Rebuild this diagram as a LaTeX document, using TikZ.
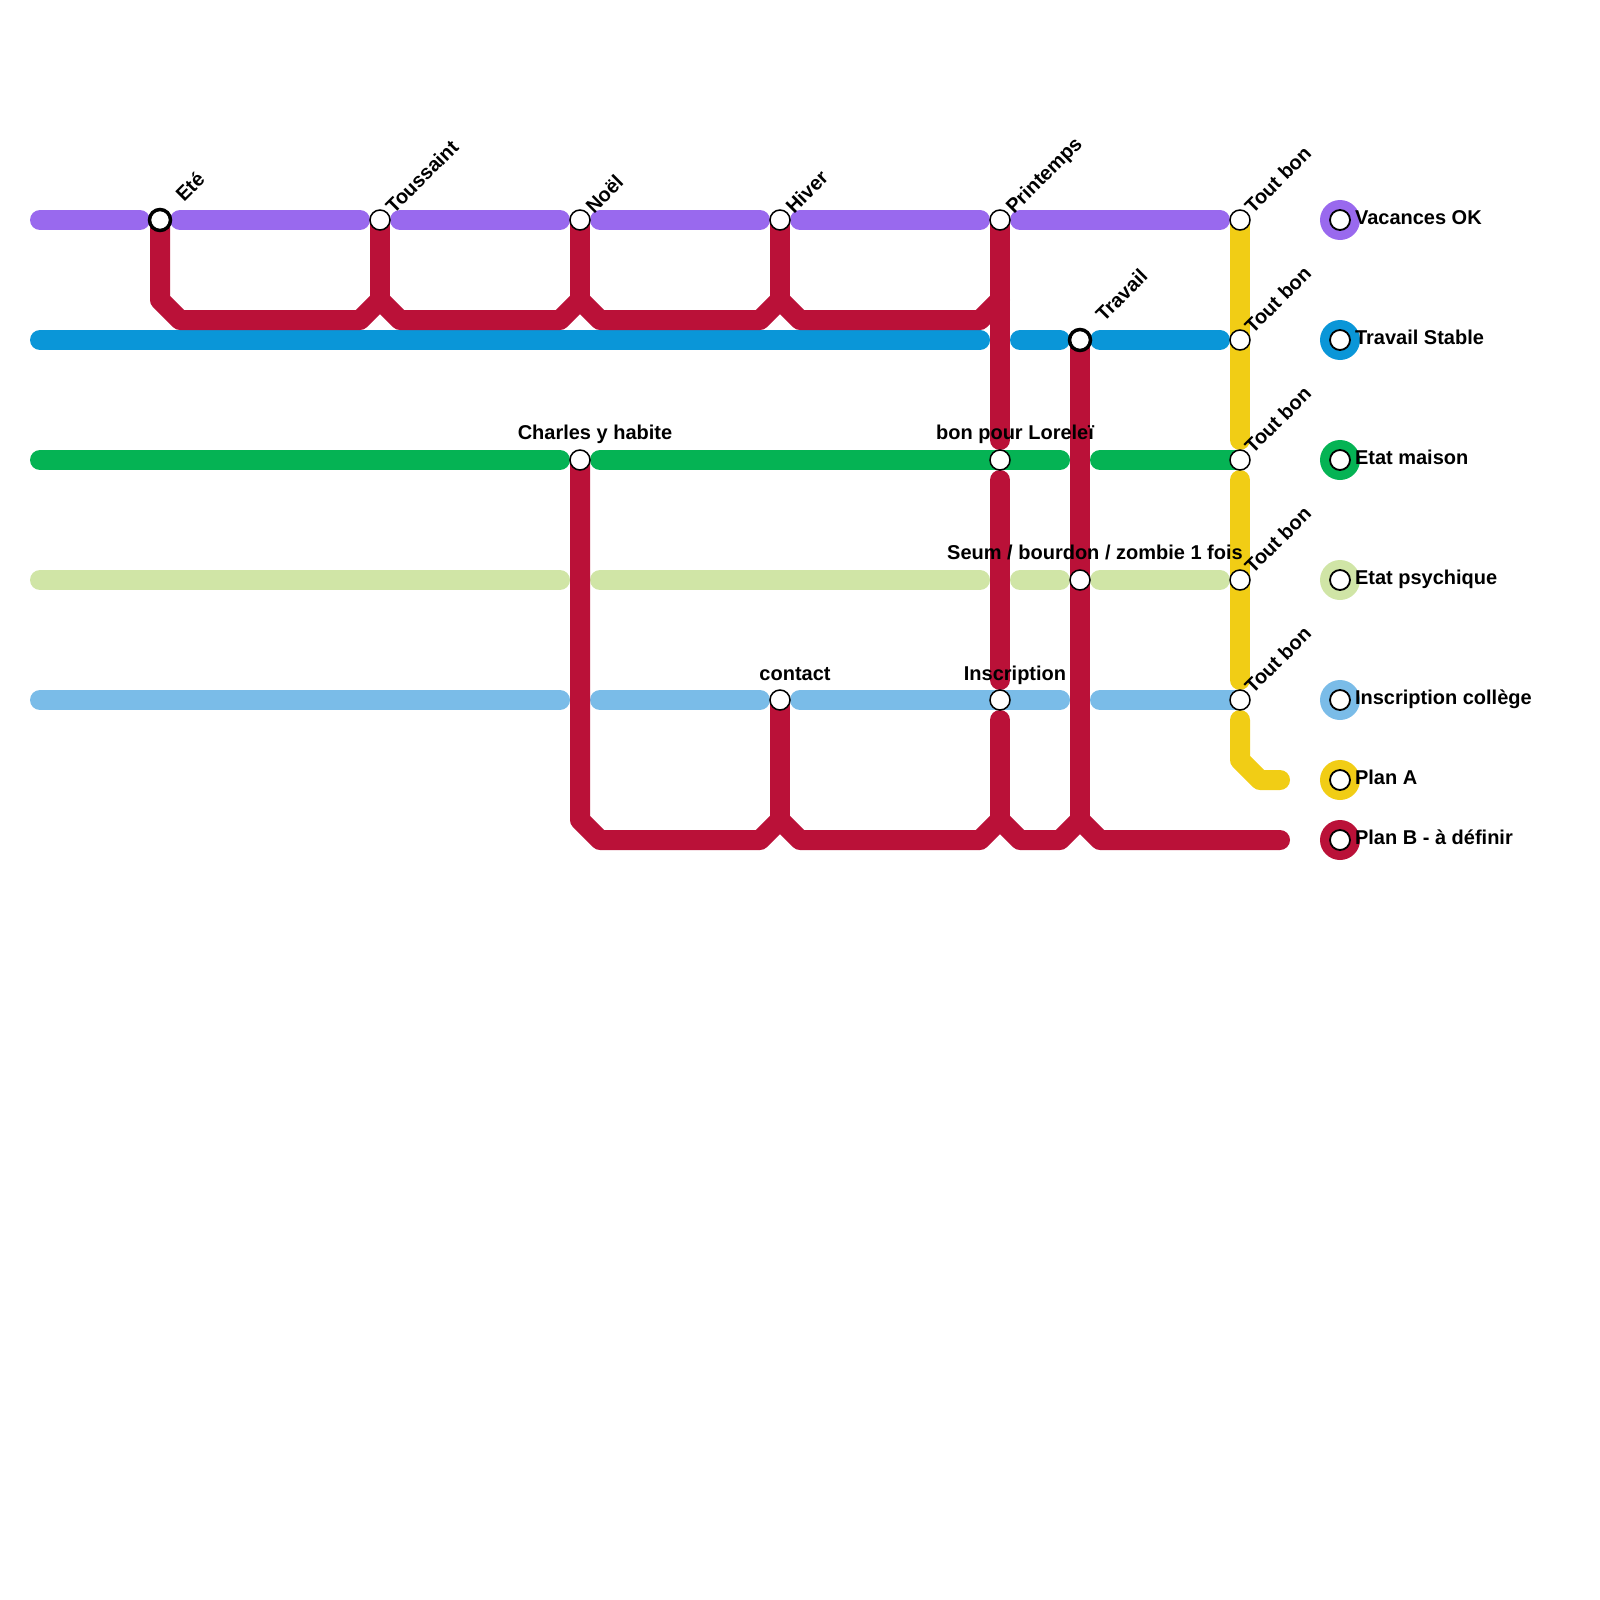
\documentclass[tikz,border=0pt]{standalone}
\usepackage{fontspec}
\setmainfont{Liberation Sans}
\usetikzlibrary{backgrounds}
\definecolor{cpurple}{HTML}{9969EE}
\definecolor{cblue}{HTML}{0A96D8}
\definecolor{cgreen}{HTML}{05B354}
\definecolor{cpale}{HTML}{D0E5A6}
\definecolor{csky}{HTML}{7ABCE8}
\definecolor{cyellow}{HTML}{F1CD15}
\definecolor{ccrimson}{HTML}{BA1138}
\tikzset{
  metro/.style={line width=10pt,line cap=round,line join=round},
  station/.style={circle,draw=black,fill=white,line width=0.75pt,minimum size=10pt,inner sep=0pt,outer sep=0pt},
  hub/.style={circle,draw=black,fill=white,line width=1.75pt,minimum size=10.5pt,inner sep=0pt,outer sep=0pt},
  legenddisc/.style={circle,minimum size=20pt,inner sep=0pt,outer sep=0pt},
  keystop/.style={circle,draw=black,fill=white,line width=0.9pt,minimum size=10pt,inner sep=0pt,outer sep=0pt},
  tag/.style={font=\bfseries\fontsize{10pt}{12pt}\selectfont,text=black,inner sep=0pt,outer sep=0pt},
  slant/.style={tag,rotate=45,anchor=base west},
  above tag/.style={tag,anchor=base},
  key/.style={tag,anchor=base west}
}
\begin{document}
\begin{tikzpicture}[x=0.5pt,y=-0.5pt]
\useasboundingbox (0,0) rectangle (1600,1600);
% grid of way-points
\foreach \x in {40,140,180,360,400,560,600,760,800,980,1020,1060,1100,1220,1240,1260,1280}
  \foreach \y in {220,300,320,340,460,580,700,760,780,820,840}
    \coordinate (g\x-\y) at (\x,\y);
\coordinate (r1) at (160,300);
\coordinate (r2) at (180,320);
\coordinate (t1) at (380,300);
\coordinate (t2) at (580,300);
\coordinate (t3) at (780,300);
\coordinate (t4) at (1000,300);
\coordinate (u1) at (1000,440);
\coordinate (u2) at (1000,480);
\coordinate (u3) at (1000,680);
\coordinate (u4) at (1000,720);
\coordinate (u5) at (1000,820);
\coordinate (v1) at (1080,820);
\coordinate (w1) at (580,820);
\coordinate (w2) at (780,820);
\coordinate (y1) at (1240,440);
\coordinate (y2) at (1240,480);
\coordinate (y3) at (1240,680);
\coordinate (y4) at (1240,720);
\coordinate (y5) at (1240,760);
% stations
\node[hub] (ete) at (160,220) {};
\node[station] (tous) at (380,220) {};
\node[station] (noel) at (580,220) {};
\node[station] (hiver) at (780,220) {};
\node[station] (print) at (1000,220) {};
\node[station] (tb1) at (1240,220) {};
\node[hub] (trav) at (1080,340) {};
\node[station] (tb2) at (1240,340) {};
\node[station] (charles) at (580,460) {};
\node[station] (lorelei) at (1000,460) {};
\node[station] (tb3) at (1240,460) {};
\node[station] (seum) at (1080,580) {};
\node[station] (tb4) at (1240,580) {};
\node[station] (contact) at (780,700) {};
\node[station] (inscr) at (1000,700) {};
\node[station] (tb5) at (1240,700) {};
\begin{pgfonlayer}{background}
% purple
\draw[metro,cpurple] (g40-220) -- (g140-220);
\draw[metro,cpurple] (g180-220) -- (g360-220);
\draw[metro,cpurple] (g400-220) -- (g560-220);
\draw[metro,cpurple] (g600-220) -- (g760-220);
\draw[metro,cpurple] (g800-220) -- (g980-220);
\draw[metro,cpurple] (g1020-220) -- (g1220-220);
% blue
\draw[metro,cblue] (g40-340) -- (g980-340);
\draw[metro,cblue] (g1020-340) -- (g1060-340);
\draw[metro,cblue] (g1100-340) -- (g1220-340);
% green
\draw[metro,cgreen] (g40-460) -- (g560-460);
\draw[metro,cgreen] (g600-460) -- (g1060-460);
\draw[metro,cgreen] (g1100-460) -- (tb3.center);
% pale green
\draw[metro,cpale] (g40-580) -- (g560-580);
\draw[metro,cpale] (g600-580) -- (g980-580);
\draw[metro,cpale] (g1020-580) -- (g1060-580);
\draw[metro,cpale] (g1100-580) -- (g1220-580);
% sky
\draw[metro,csky] (g40-700) -- (g560-700);
\draw[metro,csky] (g600-700) -- (g760-700);
\draw[metro,csky] (g800-700) -- (g1060-700);
\draw[metro,csky] (g1100-700) -- (tb5.center);
% yellow
\draw[metro,cyellow] (tb1.center) -- (y1);
\draw[metro,cyellow] (y2) -- (y3);
\draw[metro,cyellow] (y4) -- (y5) -- (g1260-780) -- (g1280-780);
% crimson upper
\draw[metro,ccrimson] (ete.center) -- (r1) -- (r2) -- (g360-320) -- (t1) -- (g400-320) -- (g560-320) -- (t2) -- (g600-320) -- (g760-320) -- (t3) -- (g800-320) -- (g980-320) -- (t4);
\draw[metro,ccrimson] (tous.center) -- (t1);
\draw[metro,ccrimson] (noel.center) -- (t2);
\draw[metro,ccrimson] (hiver.center) -- (t3);
\draw[metro,ccrimson] (print.center) -- (u1);
% crimson lower
\draw[metro,ccrimson] (charles.center) -- (w1) -- (g600-840) -- (g760-840) -- (w2) -- (g800-840) -- (g980-840) -- (u5) -- (g1020-840) -- (g1060-840) -- (v1) -- (g1100-840) -- (g1280-840);
\draw[metro,ccrimson] (contact.center) -- (w2);
\draw[metro,ccrimson] (u2) -- (u3);
\draw[metro,ccrimson] (u4) -- (u5);
\draw[metro,ccrimson] (trav.center) -- (v1);
\end{pgfonlayer}
% slanted labels
\node[slant] at ([shift={(24,-17.5)}]ete.center) {Eté};
\node[slant] at ([shift={(14,-5.5)}]tous.center) {Toussaint};
\node[slant] at ([shift={(14,-5.5)}]noel.center) {Noël};
\node[slant] at ([shift={(14,-5.5)}]hiver.center) {Hiver};
\node[slant] at ([shift={(14,-5.5)}]print.center) {Printemps};
\node[slant] at ([shift={(24,-17.5)}]trav.center) {Travail};
\node[slant] at ([shift={(13,-5.5)}]tb1.center) {Tout bon};
\node[slant] at ([shift={(13,-5.5)}]tb2.center) {Tout bon};
\node[slant] at ([shift={(13,-5.5)}]tb3.center) {Tout bon};
\node[slant] at ([shift={(13,-5.5)}]tb4.center) {Tout bon};
\node[slant] at ([shift={(13,-5.5)}]tb5.center) {Tout bon};
% upright labels
\node[above tag] at ([shift={(15,-21)}]charles.center) {Charles y habite};
\node[above tag] at ([shift={(15,-21)}]lorelei.center) {bon pour Loreleï};
\node[above tag] at ([shift={(15,-21)}]seum.center) {Seum / bourdon / zombie 1 fois};
\node[above tag] at ([shift={(15,-20)}]contact.center) {contact};
\node[above tag] at ([shift={(15,-20)}]inscr.center) {Inscription};
% legend
\foreach \n/\c/\y/\t in {a/cpurple/220/Vacances OK,b/cblue/340/Travail Stable,c/cgreen/460/Etat maison,d/cpale/580/Etat psychique,e/csky/700/Inscription collège,f/cyellow/780/Plan A,g/ccrimson/840/Plan B - à définir}{
  \node[legenddisc,fill=\c] (disc\n) at (1340,\y) {};
  \node[keystop] (stop\n) at (disc\n.center) {};
  \node[key] (text\n) at ([shift={(15,4.5)}]disc\n.center) {\t};
}
\end{tikzpicture}
\end{document}
